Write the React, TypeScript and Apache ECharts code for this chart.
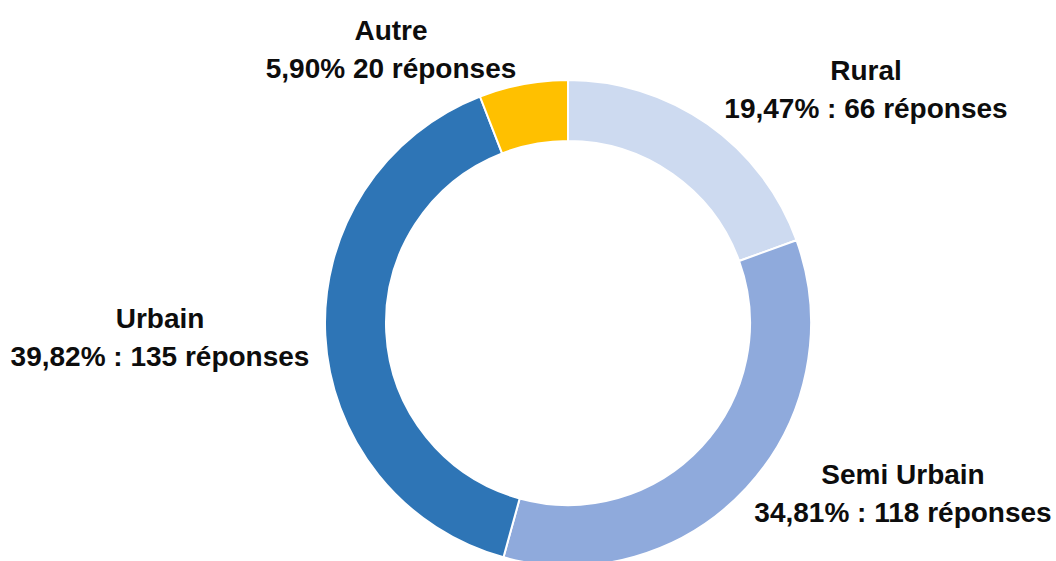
import React, { useEffect, useRef } from "react";
import * as echarts from "echarts";

const categories = ["Rural", "Semi Urbain", "Urbain", "Autre"];
const responses = [66, 118, 135, 20];
const separators = [" : ", " : ", " : ", " "];
const colors = ["#CDDAF0", "#8FAADC", "#2E75B6", "#FFC000"];
// label block centres (layout only)
const labelPos: [number, number][] = [
  [866, 89],
  [903, 493],
  [160, 337],
  [391, 49],
];

export default function App() {
  const ref = useRef<HTMLDivElement>(null);
  useEffect(() => {
    document.body.style.margin = "0";
    if (!ref.current) return;
    const chart = echarts.init(ref.current, undefined, { renderer: "svg" });
    const total = responses.reduce((a, b) => a + b, 0);
    chart.setOption({
      animation: false,
      backgroundColor: "#ffffff",
      series: [
        {
          type: "pie",
          radius: [182, 243],
          center: [568, 323],
          startAngle: 90,
          clockwise: true,
          avoidLabelOverlap: false,
          itemStyle: { borderColor: "#ffffff", borderWidth: 2 },
          labelLine: { show: false },
          label: {
            show: true,
            position: "outside",
            fontFamily: "Liberation Sans, Arial, sans-serif",
            fontWeight: "bold",
            fontSize: 28,
            lineHeight: 38,
            color: "#0d0d0d",
            align: "center",
            formatter: (p: any) => {
              const pct = ((responses[p.dataIndex] / total) * 100).toFixed(2).replace(".", ",");
              return `${p.name}\n${pct}%${separators[p.dataIndex]}${p.value} réponses`;
            },
          },
          labelLayout: (params: any) => {
            const [x, y] = labelPos[params.dataIndex];
            return { x, y, align: "center", verticalAlign: "middle" };
          },
          data: categories.map((name, i) => ({
            name,
            value: responses[i],
            itemStyle: { color: colors[i] },
          })),
        },
      ],
    });
    return () => chart.dispose();
  }, []);
  return <div ref={ref} style={{ width: 1056, height: 561 }} />;
}
